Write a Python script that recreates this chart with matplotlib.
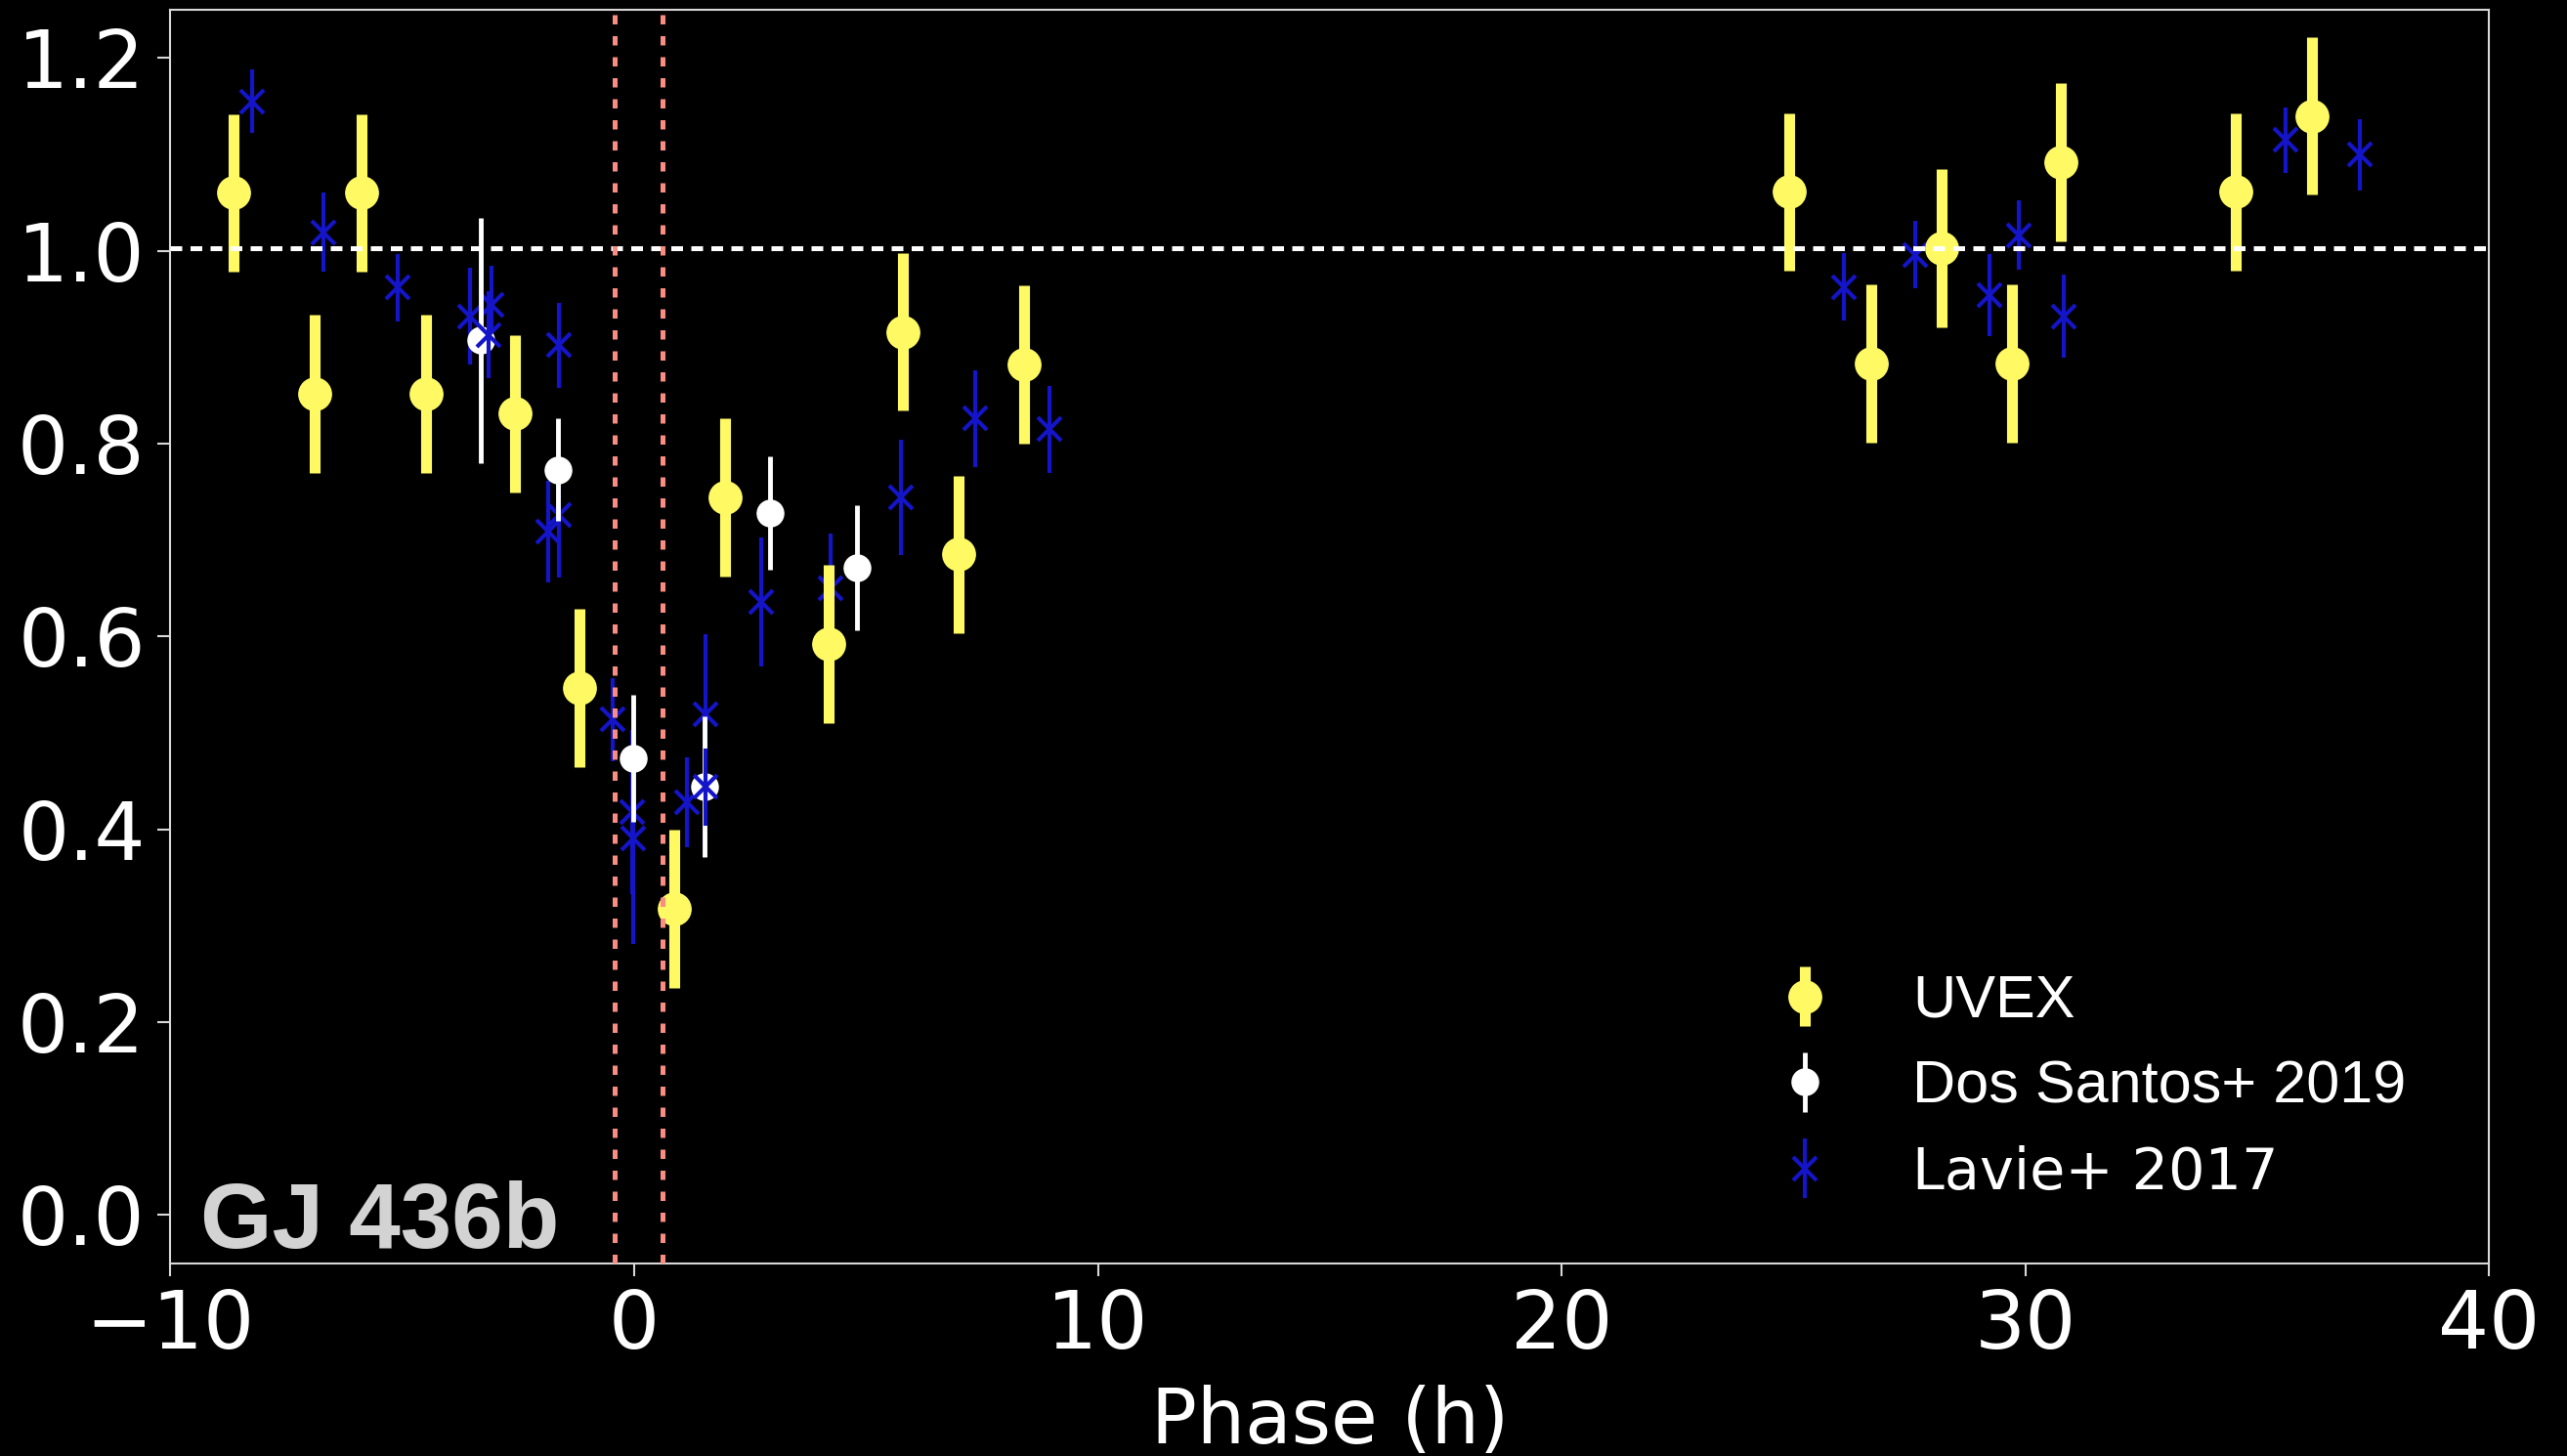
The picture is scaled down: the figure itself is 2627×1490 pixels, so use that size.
import numpy as np
import matplotlib
matplotlib.use('Agg')
import matplotlib.pyplot as plt

# UVEX points (phase in h, relative flux), all with the same error
uvex_x = [-8.64, -6.90, -5.87, -4.49, -2.58, -1.18, 0.86, 1.96, 4.20, 5.80,
          6.99, 8.40, 24.91, 26.67, 28.20, 29.72, 30.77, 34.54, 36.18]
uvex_y = [1.060, 0.852, 1.060, 0.852, 0.831, 0.547, 0.318, 0.744, 0.592, 0.916,
          0.685, 0.882, 1.061, 0.883, 1.003, 0.883, 1.092, 1.061, 1.140]
uvex_err = [0.082] * len(uvex_x)

# Dos Santos+ 2019
dos_x = [-3.31, -1.64, -0.01, 1.51, 2.94, 4.80]
dos_y = [0.907, 0.773, 0.474, 0.444, 0.728, 0.671]
dos_err = [0.127, 0.053, 0.066, 0.073, 0.059, 0.065]

# Lavie+ 2017
lavie_x = [-8.24, -6.70, -5.10, -3.53, -3.08, -3.14, -1.625, -1.86, -1.625, -0.466,
           -0.044, -0.02, 1.136, 1.536, 1.536, 2.735, 4.226, 5.75, 7.36, 8.96,
           26.09, 27.62, 29.22, 29.86, 30.82, 35.62, 37.22]
lavie_y = [1.155, 1.019, 0.962, 0.932, 0.944, 0.913, 0.902, 0.709, 0.726, 0.514,
           0.418, 0.391, 0.428, 0.519, 0.444, 0.636, 0.650, 0.744, 0.826, 0.815,
           0.9625, 0.996, 0.954, 1.016, 0.932, 1.115, 1.0995]
lavie_err = [0.033, 0.041, 0.035, 0.050, 0.040, 0.045, 0.044, 0.053, 0.065, 0.043,
             0.085, 0.110, 0.047, 0.083, 0.040, 0.067, 0.057, 0.060, 0.050, 0.045,
             0.035, 0.035, 0.043, 0.036, 0.043, 0.034, 0.037]
# points of Lavie drawn above the white ones
lavie_front = [5, 14]

transit = [-0.42, 0.62]
baseline = 1.003

yellow = '#fffa64'
blue = '#1414c8'
grey = '#d8d8d8'

fig = plt.figure(figsize=(26.27, 14.90), dpi=100, facecolor='black')
ax = fig.add_axes((0.0664, 0.1324, 0.9032, 0.8609))
ax.set_facecolor('black')

lx = np.array(lavie_x)
ly = np.array(lavie_y)
le = np.array(lavie_err)
back = np.array([i not in lavie_front for i in range(len(lx))])

h_lav = ax.errorbar(lx[back], ly[back], yerr=le[back], fmt='x', color=blue, ms=17, mew=3,
                    elinewidth=3, capsize=0, zorder=2)
ax.errorbar(lx[~back], ly[~back], yerr=le[~back], fmt='x', color=blue, ms=17, mew=3,
            elinewidth=3, capsize=0, zorder=3.5)
h_dos = ax.errorbar(dos_x, dos_y, yerr=dos_err, fmt='o', color='white', ms=19.5,
                    elinewidth=3.5, capsize=0, zorder=3)
h_uv = ax.errorbar(uvex_x, uvex_y, yerr=uvex_err, fmt='o', color=yellow, ms=24,
                   elinewidth=8, capsize=0, zorder=4)

ax.axhline(baseline, color='white', lw=3.6, dashes=(2.4, 1.7), zorder=5)
for t in transit:
    ax.axvline(t, color='#fa8c82', lw=3.6, dashes=(1.9, 2.4), zorder=5)

ax.set_xlim(-10, 40)
ax.set_ylim(-0.05, 1.25)
ax.set_xticks([-10, 0, 10, 20, 30, 40])
ax.set_yticks([0.0, 0.2, 0.4, 0.6, 0.8, 1.0, 1.2])
ax.set_yticklabels(['0.0', '0.2', '0.4', '0.6', '0.8', '1.0', '1.2'])

for s in ax.spines.values():
    s.set_color(grey)
    s.set_linewidth(1.5)
ax.tick_params(colors=grey, labelcolor='white', width=1.5, length=9.5,
               labelsize=59, pad=9)
for lab in ax.get_xticklabels() + ax.get_yticklabels():
    lab.set_family('DejaVu Sans')

ax.set_xlabel('Phase (h)', fontsize=56, color='white', family='DejaVu Sans', labelpad=14)

ax.text(0.013, 0.0125, 'GJ 436b', transform=ax.transAxes, fontsize=68,
        fontweight='bold', family='Liberation Sans', color='#d3d3d3',
        va='baseline', ha='left', zorder=6)

leg = fig.legend([h_uv, h_dos, h_lav], ['UVEX', 'Dos Santos+ 2019', 'Lavie+ 2017'],
                 loc='center left', bbox_to_anchor=(0.6706, 0.253), frameon=False,
                 prop={'family': 'Liberation Sans', 'size': 44},
                 handlelength=1.0, handletextpad=1.3, labelspacing=0.5, numpoints=1)
for t in leg.get_texts():
    t.set_color('white')
leg.get_texts()[2].set_family('DejaVu Sans')
leg.get_texts()[2].set_fontsize(42.5)

fig.savefig('out.png', dpi=100, facecolor='black')
